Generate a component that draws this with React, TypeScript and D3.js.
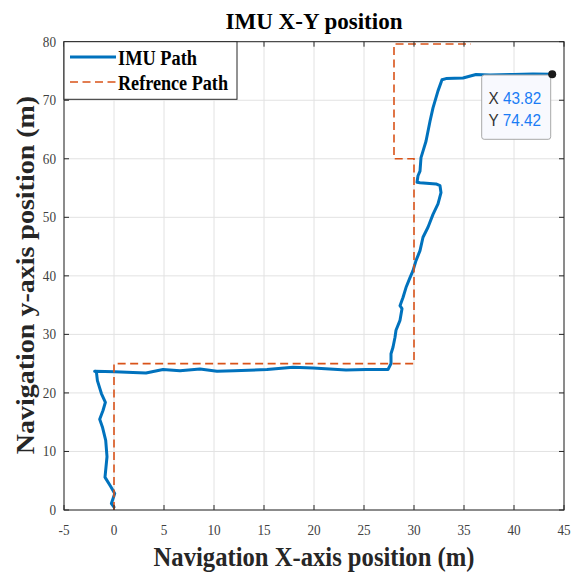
import React from "react";
import * as d3 from "d3";

const imuX = [0.0, -0.26, 0.07, -0.33, -0.83, -0.9, -0.7, -0.83, -1.16, -1.43, -1.1, -0.86, -1.26, -1.66, -1.76, -1.93, 0.07, 1.9, 3.2, 4.9, 6.6, 8.6, 10.3, 12.0, 15.3, 17.9, 19.9, 23.2, 25.2, 27.4, 27.7, 27.7, 27.9, 28.1, 28.2, 28.6, 28.8, 28.6, 28.9, 29.2, 29.6, 29.9, 30.2, 30.6, 30.9, 31.4, 31.9, 32.4, 32.7, 32.6, 32.2, 30.6, 30.3, 30.4, 30.6, 30.7, 30.9, 31.2, 31.6, 31.9, 32.4, 32.8, 33.2, 34.9, 36.2, 37.6, 39.9, 41.9, 43.82];
const imuY = [0.5, 1.1, 2.8, 4.0, 5.4, 5.6, 9.1, 11.9, 14.2, 15.5, 17.0, 18.4, 19.9, 22.1, 23.6, 23.7, 23.6, 23.5, 23.4, 24.0, 23.8, 24.1, 23.7, 23.8, 24.0, 24.4, 24.25, 23.9, 24.0, 24.0, 25.0, 26.7, 27.8, 29.5, 30.7, 32.4, 34.4, 34.9, 36.3, 38.0, 39.7, 40.9, 42.6, 44.3, 46.6, 48.3, 50.5, 52.3, 54.2, 55.4, 55.7, 55.9, 56.0, 57.1, 57.9, 60.2, 61.3, 63.0, 66.4, 68.7, 71.6, 73.5, 73.7, 73.8, 74.4, 74.3, 74.4, 74.5, 74.42];

const refX = [0, 0, 30, 30, 28, 28, 35.7];
const refY = [0, 25, 25, 60, 60, 79.6, 79.6];

const xTicks = [-5, 0, 5, 10, 15, 20, 25, 30, 35, 40, 45];
const yTicks = [0, 10, 20, 30, 40, 50, 60, 70, 80];

const seriesNames = ["IMU Path", "Refrence Path"];
const tipX = "43.82";
const tipY = "74.42";
const titleText = "IMU X-Y position";
const xLabel = "Navigation X-axis position (m)";
const yLabel = "Navigation y-axis position (m)";

const W = 577;
const H = 575;
const L = 64;
const R = 564;
const T = 41.7;
const B = 510;

const BLUE = "#0072BD";
const ORANGE = "#D95319";
const AX = "#262626";
const SERIF = "'Liberation Serif', 'Times New Roman', serif";
const SANS = "'Liberation Sans', Arial, sans-serif";

export default function App() {
  const x = d3.scaleLinear().domain([-5, 45]).range([L, R]);
  const y = d3.scaleLinear().domain([0, 80]).range([B, T]);

  const line = d3
    .line<[number, number]>()
    .x((d) => x(d[0]))
    .y((d) => y(d[1]));

  const imuPts: [number, number][] = imuX.map((v, i) => [v, imuY[i]]);
  const refPts: [number, number][] = refX.map((v, i) => [v, refY[i]]);

  const lastX = imuX[imuX.length - 1];
  const lastY = imuY[imuY.length - 1];

  const sx = 0.88;

  return (
    <svg
      width={W}
      height={H}
      style={{ position: "absolute", left: 0, top: 0, background: "#fff" }}
    >
      <rect x={0} y={0} width={W} height={H} fill="#fff" />
      {/* grid */}
      {xTicks.map((t) => (
        <line key={"gx" + t} x1={x(t)} x2={x(t)} y1={T} y2={B} stroke="#e2e2e2" strokeWidth={1} />
      ))}
      {yTicks.map((t) => (
        <line key={"gy" + t} x1={L} x2={R} y1={y(t)} y2={y(t)} stroke="#e2e2e2" strokeWidth={1} />
      ))}

      {/* data */}
      <path d={line(imuPts) || ""} fill="none" stroke={BLUE} strokeWidth={3} strokeLinejoin="round" strokeLinecap="round" />
      <path d={line(refPts) || ""} fill="none" stroke={ORANGE} strokeWidth={1.6} strokeDasharray="8,4.5" />

      {/* axes box and ticks */}
      <rect x={L} y={T} width={R - L} height={B - T} fill="none" stroke={AX} strokeWidth={1} />
      {xTicks.map((t) => (
        <g key={"tx" + t}>
          <line x1={x(t)} x2={x(t)} y1={B} y2={B - 5} stroke={AX} />
          <line x1={x(t)} x2={x(t)} y1={T} y2={T + 5} stroke={AX} />
        </g>
      ))}
      {yTicks.map((t) => (
        <g key={"ty" + t}>
          <line x1={L} x2={L + 5} y1={y(t)} y2={y(t)} stroke={AX} />
          <line x1={R} x2={R - 5} y1={y(t)} y2={y(t)} stroke={AX} />
        </g>
      ))}

      {/* tick labels */}
      {xTicks.map((t) => (
        <text
          key={"lx" + t}
          transform={`translate(${x(t)},535) scale(${sx},1)`}
          textAnchor="middle"
          fontFamily={SERIF}
          fontSize={15}
          fill="#404040"
        >
          {String(t)}
        </text>
      ))}
      {yTicks.map((t) => (
        <text
          key={"ly" + t}
          transform={`translate(56,${y(t) + 5}) scale(${sx},1)`}
          textAnchor="end"
          fontFamily={SERIF}
          fontSize={15}
          fill="#404040"
        >
          {String(t)}
        </text>
      ))}

      {/* title and labels */}
      <text
        x={314}
        y={29}
        textAnchor="middle"
        fontFamily={SERIF}
        fontWeight="bold"
        fontSize={24}
        fill="#000"
        textLength={177}
        lengthAdjust="spacingAndGlyphs"
      >
        {titleText}
      </text>
      <text
        transform={`translate(314,566) scale(${sx},1)`}
        textAnchor="middle"
        fontFamily={SERIF}
        fontWeight="bold"
        fontSize={28}
        fill="#262626"
      >
        {xLabel}
      </text>
      <text
        transform={`translate(34,275) rotate(-90) scale(1,${sx})`}
        textAnchor="middle"
        fontFamily={SERIF}
        fontWeight="bold"
        fontSize={28}
        fill="#262626"
      >
        {yLabel}
      </text>

      {/* legend */}
      <rect x={L} y={T} width={237 - L} height={99.3 - T} fill="#fff" stroke={AX} strokeWidth={1} />
      <line x1={70} x2={116} y1={57} y2={57} stroke={BLUE} strokeWidth={3} />
      <line x1={70} x2={116} y1={82} y2={82} stroke={ORANGE} strokeWidth={1.6} strokeDasharray="8,4.5" />
      <text x={118} y={65} fontFamily={SERIF} fontWeight="bold" fontSize={20} fill="#000" textLength={79} lengthAdjust="spacingAndGlyphs">
        {seriesNames[0]}
      </text>
      <text x={118} y={90} fontFamily={SERIF} fontWeight="bold" fontSize={20} fill="#000" textLength={110} lengthAdjust="spacingAndGlyphs">
        {seriesNames[1]}
      </text>

      {/* datatip */}
      <rect x={481.7} y={75} width={69} height={64.3} rx={2.5} fill="#f8f9fe" stroke="#a8a8a8" strokeWidth={1} />
      <circle cx={x(lastX)} cy={y(lastY)} r={4} fill="#1a1a1a" />
      <text transform={`translate(488.5,104) scale(0.9,1)`} fontFamily={SANS} fontSize={17}>
        <tspan fill="#333">X </tspan>
        <tspan fill="#1a7cf5">{tipX}</tspan>
      </text>
      <text transform={`translate(488.5,126) scale(0.9,1)`} fontFamily={SANS} fontSize={17}>
        <tspan fill="#333">Y </tspan>
        <tspan fill="#1a7cf5">{tipY}</tspan>
      </text>
    </svg>
  );
}
